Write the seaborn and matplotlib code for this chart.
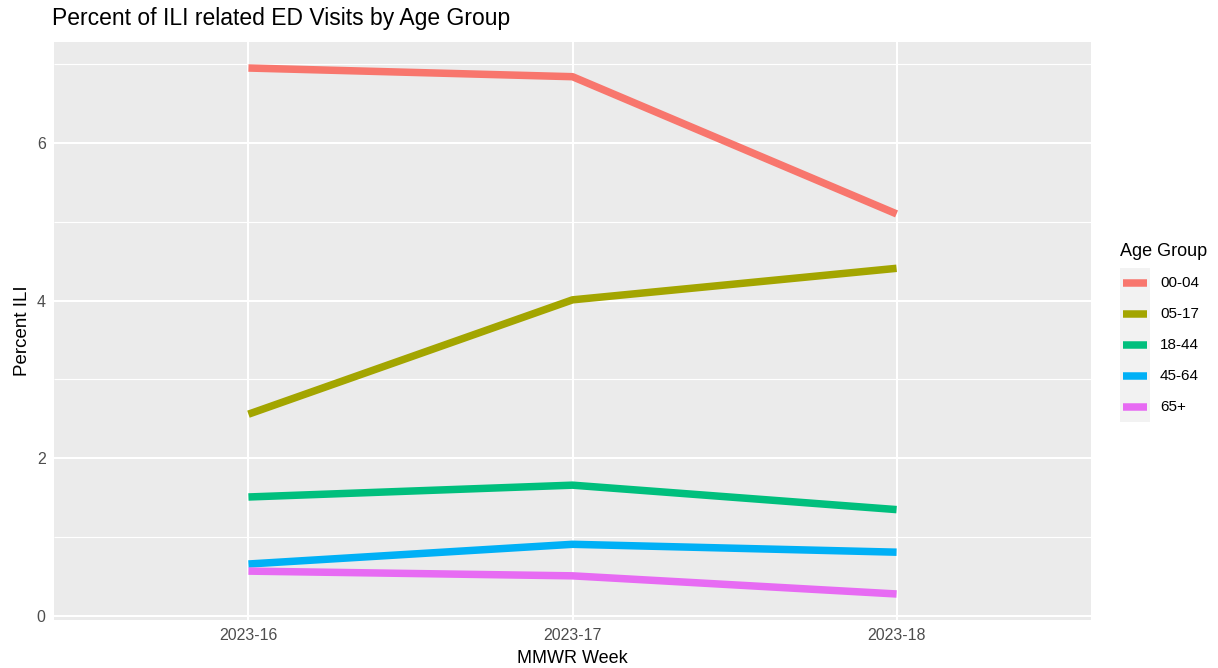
import matplotlib
matplotlib.use("Agg")
import matplotlib.pyplot as plt
import pandas as pd
import seaborn as sns
from matplotlib.lines import Line2D
from matplotlib.patches import Rectangle

weeks = ["2023-16", "2023-17", "2023-18"]
age_groups = ["00-04", "05-17", "18-44", "45-64", "65+"]
pct_00_04 = [6.95, 6.84, 5.10]
pct_05_17 = [2.56, 4.01, 4.41]
pct_18_44 = [1.51, 1.66, 1.35]
pct_45_64 = [0.66, 0.91, 0.81]
pct_65_up = [0.57, 0.51, 0.28]
colors = ["#F8766D", "#A3A500", "#00BF7D", "#00B0F6", "#E76BF3"]

series = [pct_00_04, pct_05_17, pct_18_44, pct_45_64, pct_65_up]
df = pd.DataFrame(
    [(w, g, v) for g, vals in zip(age_groups, series) for w, v in zip(weeks, vals)],
    columns=["week", "group", "pct"],
)

sns.set_theme(style="darkgrid")
plt.rcParams["font.family"] = ["Liberation Sans", "DejaVu Sans"]
plt.rcParams["lines.solid_capstyle"] = "butt"

W, H = 1218, 668
fig = plt.figure(figsize=(W / 100, H / 100), dpi=100)
fig.patch.set_facecolor("white")
ax = fig.add_axes([54 / W, (H - 620) / H, (1091 - 54) / W, (620 - 42) / H])
ax.set_facecolor("#EBEBEB")

palette = dict(zip(age_groups, colors))
sns.lineplot(data=df, x="week", y="pct", hue="group", palette=palette,
             linewidth=5.4, legend=False, sort=False, ax=ax)
for ln in ax.lines:
    ln.set_solid_joinstyle("round")

ax.set_xlim(-0.6, 2.6)
ax.set_ylim(-0.05, 7.28)
ax.set_yticks([0, 2, 4, 6])
ax.set_yticks([1, 3, 5, 7], minor=True)
ax.grid(which="major", color="white", linewidth=1.5)
ax.grid(which="minor", axis="y", color="white", linewidth=0.8)
ax.set_axisbelow(True)
for s in ax.spines.values():
    s.set_visible(False)
ax.tick_params(which="major", length=4, width=0.8, color="#333333",
               labelsize=11.5, labelcolor="#4D4D4D", pad=2)
ax.tick_params(which="minor", length=0)

ax.set_xlabel("MMWR Week", fontsize=13, color="black", labelpad=5)
ax.set_ylabel("Percent ILI", fontsize=13.5, color="black", labelpad=4)
fig.text(52 / W, 1 - 18 / H, "Percent of ILI related ED Visits by Age Group",
         fontsize=16.5, color="black", ha="left", va="center")

# ggplot-style legend on the right
fig.text(1120 / W, 1 - 252 / H, "Age Group", fontsize=13, color="black",
         ha="left", va="center")
key_top, key_h = 268, 30.8
fig.add_artist(Rectangle((1120 / W, 1 - (key_top + key_h * len(age_groups)) / H),
                         30 / W, key_h * len(age_groups) / H,
                         transform=fig.transFigure, facecolor="#F2F2F2",
                         edgecolor="none"))
for i, (g, c) in enumerate(zip(age_groups, colors)):
    yc = 1 - (key_top + key_h * (i + 0.5)) / H
    fig.add_artist(Line2D([1123 / W, 1147 / W], [yc, yc], transform=fig.transFigure,
                          color=c, linewidth=5.4, solid_capstyle="butt"))
    fig.text(1160 / W, yc, g, fontsize=11, color="black", ha="left", va="center")

fig.savefig("out.png", dpi=100)
